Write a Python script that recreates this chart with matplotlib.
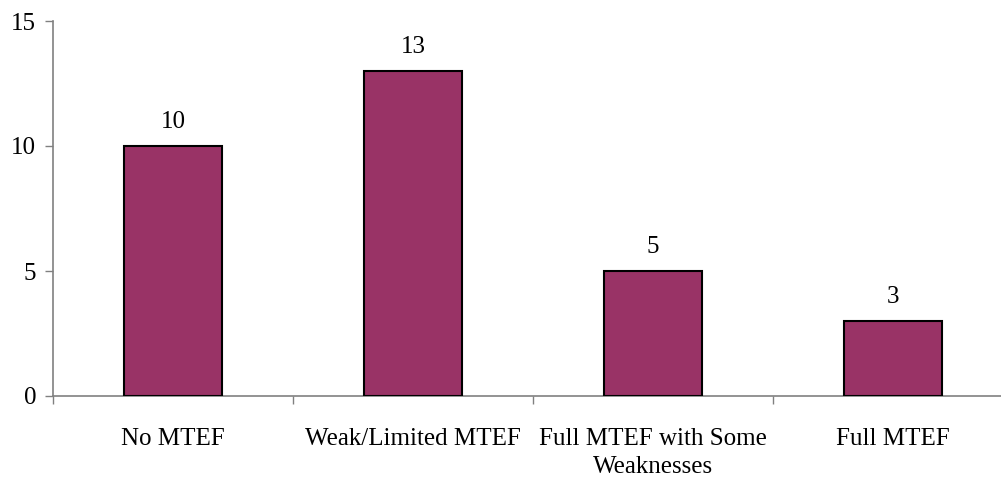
import numpy as np
import matplotlib.pyplot as plt

categories = ['No MTEF', 'Weak/Limited MTEF', 'Full MTEF with Some\nWeaknesses', 'Full MTEF']
counts = [10, 13, 5, 3]

plt.rcParams['font.family'] = ['Liberation Serif', 'DejaVu Serif']

fig = plt.figure(figsize=(10.01, 4.8), dpi=100)
ax = fig.add_axes([53 / 1001, 1 - 396 / 480, 960 / 1001, 375 / 480])

x = np.arange(len(categories))
ax.bar(x, counts, width=0.41, color='#993366', edgecolor='black', linewidth=1.5, zorder=3)

for xi, v in zip(x, counts):
    ax.text(xi, v + 0.72, str(v), ha='center', va='baseline', fontsize=18)

ax.set_xlim(-0.5, len(categories) - 0.5)
ax.set_ylim(0, 15)
ax.set_yticks([0, 5, 10, 15])

ax.set_xticks(x)
ax.set_xticklabels(categories, fontsize=18, linespacing=1.38)
ax.tick_params(axis='x', which='major', length=0, pad=23)
ax.set_xticks(np.arange(len(categories) + 1) - 0.5, minor=True)
ax.tick_params(axis='x', which='minor', length=6, width=1, color='#808080', direction='out')
ax.tick_params(axis='y', labelsize=18, length=6, width=1, color='#808080', direction='out', pad=6)

for side in ['top', 'right']:
    ax.spines[side].set_visible(False)
for side in ['left', 'bottom']:
    ax.spines[side].set_color('#808080')
    ax.spines[side].set_linewidth(1.2)
ax.spines['bottom'].set_clip_on(False)

fig.savefig('out.png', dpi=100)
